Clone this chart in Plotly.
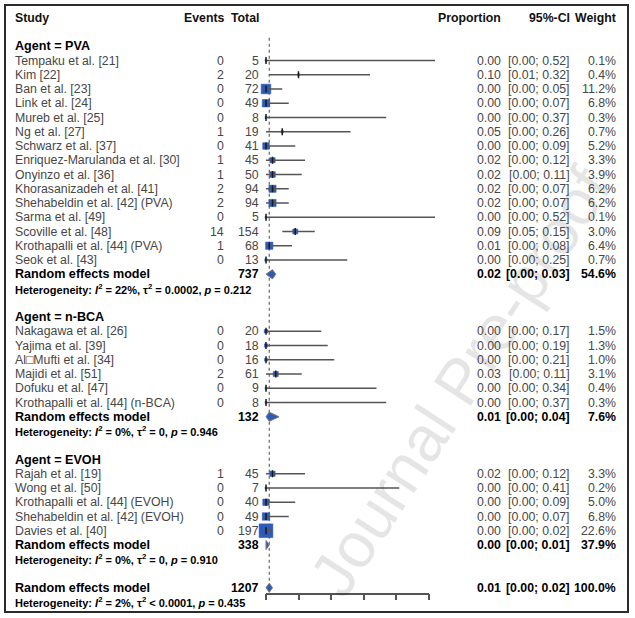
import math
import plotly.graph_objects as go

# ---------------- data ----------------
pva_studies = ["Tempaku et al. [21]", "Kim [22]", "Ban et al. [23]", "Link et al. [24]",
               "Mureb et al. [25]", "Ng et al. [27]", "Schwarz et al. [37]",
               "Enriquez-Marulanda et al. [30]", "Onyinzo et al. [36]",
               "Khorasanizadeh et al. [41]", "Shehabeldin et al. [42] (PVA)",
               "Sarma et al. [49]", "Scoville et al. [48]",
               "Krothapalli et al. [44] (PVA)", "Seok et al. [43]"]
pva_events = [0, 2, 0, 0, 0, 1, 0, 1, 1, 2, 2, 0, 14, 1, 0]
pva_totals = [5, 20, 72, 49, 8, 19, 41, 45, 50, 94, 94, 5, 154, 68, 13]
pva_prop = [0.00, 0.10, 0.00, 0.00, 0.00, 0.05, 0.00, 0.02, 0.02, 0.02, 0.02, 0.00, 0.09, 0.01, 0.00]
pva_lower = [0.00, 0.01, 0.00, 0.00, 0.00, 0.00, 0.00, 0.00, 0.00, 0.00, 0.00, 0.00, 0.05, 0.00, 0.00]
pva_upper = [0.52, 0.32, 0.05, 0.07, 0.37, 0.26, 0.09, 0.12, 0.11, 0.07, 0.07, 0.52, 0.15, 0.08, 0.25]
pva_weight = [0.1, 0.4, 11.2, 6.8, 0.3, 0.7, 5.2, 3.3, 3.9, 6.2, 6.2, 0.1, 3.0, 6.4, 0.7]

nbca_studies = ["Nakagawa et al. [26]", "Yajima et al. [39]", "Al\u25a1Mufti et al. [34]",
                "Majidi et al. [51]", "Dofuku et al. [47]", "Krothapalli et al. [44] (n-BCA)"]
nbca_events = [0, 0, 0, 2, 0, 0]
nbca_totals = [20, 18, 16, 61, 9, 8]
nbca_prop = [0.00, 0.00, 0.00, 0.03, 0.00, 0.00]
nbca_lower = [0.00, 0.00, 0.00, 0.00, 0.00, 0.00]
nbca_upper = [0.17, 0.19, 0.21, 0.11, 0.34, 0.37]
nbca_weight = [1.5, 1.3, 1.0, 3.1, 0.4, 0.3]

evoh_studies = ["Rajah et al. [19]", "Wong et al. [50]", "Krothapalli et al. [44] (EVOH)",
                "Shehabeldin et al. [42] (EVOH)", "Davies et al. [40]"]
evoh_events = [1, 0, 0, 0, 0]
evoh_totals = [45, 7, 40, 49, 197]
evoh_prop = [0.02, 0.00, 0.00, 0.00, 0.00]
evoh_lower = [0.00, 0.00, 0.00, 0.00, 0.00]
evoh_upper = [0.12, 0.41, 0.09, 0.07, 0.02]
evoh_weight = [3.3, 0.2, 5.0, 6.8, 22.6]

group_names = ["Agent = PVA", "Agent = n-BCA", "Agent = EVOH"]
group_totals = [737, 132, 338]
group_prop = [0.02, 0.01, 0.00]
group_lower = [0.00, 0.00, 0.00]
group_upper = [0.03, 0.04, 0.01]
group_weight = [54.6, 7.6, 37.9]
group_het = ["Heterogeneity: <i>I</i><sup>2</sup> = 22%, \u03c4<sup>2</sup> = 0.0002, <i>p</i> = 0.212",
             "Heterogeneity: <i>I</i><sup>2</sup> = 0%, \u03c4<sup>2</sup> = 0, <i>p</i> = 0.946",
             "Heterogeneity: <i>I</i><sup>2</sup> = 0%, \u03c4<sup>2</sup> = 0, <i>p</i> = 0.910"]

overall_total = 1207
overall_prop = 0.01
overall_lower = 0.00
overall_upper = 0.02
overall_weight = 100.0
overall_het = "Heterogeneity: <i>I</i><sup>2</sup> = 2%, \u03c4<sup>2</sup> &lt; 0.0001, <i>p</i> = 0.435"

axis_ticks = [0, 0.1, 0.2, 0.3, 0.4, 0.5]

groups = [
    (pva_studies, pva_events, pva_totals, pva_prop, pva_lower, pva_upper, pva_weight),
    (nbca_studies, nbca_events, nbca_totals, nbca_prop, nbca_lower, nbca_upper, nbca_weight),
    (evoh_studies, evoh_events, evoh_totals, evoh_prop, evoh_lower, evoh_upper, evoh_weight),
]

# ---------------- layout geometry ----------------
W, H = 635, 618
X0_PX, PX_PER_UNIT = 266.0, 325.0      # pixel of proportion 0, pixels per unit
ROW0_PX, ROW_PX = 60.5, 14.25          # pixel of first study row, row spacing
FONT = "Liberation Sans, Arial, sans-serif"
FS = 12.3
GRAY = "#474747"
BLUE = "#2f5bb7"

def px(xp):
    return xp / W

annotations = []

def text(xp, row, s, anchor="left", bold=False, size=FS, color=None):
    if color is None:
        color = "#000000" if bold else GRAY
    annotations.append(dict(
        x=px(xp), xref="paper", y=row, yref="y", text=(f"<b>{s}</b>" if bold else s),
        xanchor=anchor, yanchor="middle", showarrow=False,
        font=dict(family=FONT, size=size, color=color)))

COL_LABEL, COL_EVENTS, COL_TOTAL, COL_PROP, COL_CI, COL_W = 13, 226, 261, 503, 572, 618

# watermark (drawn first, under the other texts)
annotations.append(dict(
    x=px(460), xref="paper", y=1 - 382 / H, yref="paper", text="Journal Pre-proof",
    showarrow=False, textangle=-57, xanchor="center", yanchor="middle",
    font=dict(family=FONT, size=64, color="rgba(0,0,0,0.10)")))

# headers
text(COL_LABEL, -3, "Study", bold=True, color="#111")
text(COL_EVENTS, -3, "Events", "right", bold=True, color="#111")
text(COL_TOTAL, -3, "Total", "right", bold=True, color="#111")
text(COL_PROP, -3, "Proportion", "right", bold=True, color="#111")
text(COL_CI, -3, "95%-CI", "right", bold=True, color="#111")
text(COL_W, -3, "Weight", "right", bold=True, color="#111")

ci_x, ci_y = [], []
sq_x, sq_y, sq_s = [], [], []
diamonds = []

row = -1
for gi, (names, ev, tot, pr, lo, up, wt) in enumerate(groups):
    text(COL_LABEL, row, group_names[gi], bold=True, size=12.6)
    row += 1
    for i in range(len(names)):
        text(COL_LABEL, row, names[i])
        text(COL_EVENTS, row, str(ev[i]), "right")
        text(COL_TOTAL, row, str(tot[i]), "right")
        text(COL_PROP, row, f"{pr[i]:.2f}", "right")
        text(COL_CI, row, f"[{lo[i]:.2f}; {up[i]:.2f}]", "right")
        text(COL_W, row, f"{wt[i]:.1f}%", "right")
        ci_x += [lo[i], up[i], None]
        ci_y += [row, row, None]
        sq_x.append(pr[i]); sq_y.append(row)
        sq_s.append(max(2.9 * math.sqrt(wt[i]), 2.0))
        row += 1
    text(COL_LABEL, row, "Random effects model", bold=True, size=12.6)
    text(COL_TOTAL, row, str(group_totals[gi]), "right", bold=True)
    text(COL_PROP, row, f"{group_prop[gi]:.2f}", "right", bold=True)
    text(COL_CI, row, f"[{group_lower[gi]:.2f}; {group_upper[gi]:.2f}]", "right", bold=True)
    text(COL_W, row, f"{group_weight[gi]:.1f}%", "right", bold=True)
    diamonds.append((group_prop[gi], group_lower[gi], group_upper[gi], row))
    row += 1
    text(COL_LABEL, row, group_het[gi], bold=True, size=11)
    row += 2

# overall
text(COL_LABEL, row, "Random effects model", bold=True, size=12.6)
text(COL_TOTAL, row, str(overall_total), "right", bold=True)
text(COL_PROP, row, f"{overall_prop:.2f}", "right", bold=True)
text(COL_CI, row, f"[{overall_lower:.2f}; {overall_upper:.2f}]", "right", bold=True)
text(COL_W, row, f"{overall_weight:.1f}%", "right", bold=True)
diamonds.append((overall_prop, overall_lower, overall_upper, row))
overall_row = row
row += 1
text(COL_LABEL, row, overall_het, bold=True, size=11)

fig = go.Figure()

# reference (dotted) line at overall estimate
fig.add_trace(go.Scatter(x=[overall_prop, overall_prop], y=[-1.6, overall_row - 0.45],
                         mode="lines", line=dict(color="#666", width=1.2, dash="dot"),
                         hoverinfo="skip", showlegend=False))

# squares
fig.add_trace(go.Scatter(x=sq_x, y=sq_y, mode="markers",
                         marker=dict(symbol="square", size=sq_s, color=BLUE, opacity=1,
                                     line=dict(width=0.5, color=BLUE)),
                         hoverinfo="skip", showlegend=False))
# CI lines
fig.add_trace(go.Scatter(x=ci_x, y=ci_y, mode="lines", line=dict(color="#555", width=1.5),
                         hoverinfo="skip", showlegend=False))
# point ticks
fig.add_trace(go.Scatter(x=sq_x, y=sq_y, mode="markers",
                         marker=dict(symbol="line-ns-open", size=5, color="#1a1a1a",
                                     line=dict(color="#1a1a1a", width=1.5)),
                         hoverinfo="skip", showlegend=False))

# diamonds
DH = 0.32
for est, lo, up, r in diamonds:
    fig.add_trace(go.Scatter(x=[lo, est, up, est, lo], y=[r, r - DH, r, r + DH, r],
                             mode="lines", fill="toself", fillcolor=BLUE,
                             line=dict(color="#777", width=1), hoverinfo="skip", showlegend=False))

# dummy trace for the tick axis
fig.add_trace(go.Scatter(x=[0], y=[0], xaxis="x2", yaxis="y", mode="markers",
                         marker=dict(opacity=0), hoverinfo="skip", showlegend=False))

y_top = -ROW0_PX / ROW_PX
y_bot = (H - ROW0_PX) / ROW_PX

fig.update_layout(
    width=W, height=H, margin=dict(l=0, r=0, t=0, b=0),
    paper_bgcolor="white", plot_bgcolor="rgba(0,0,0,0)",
    xaxis=dict(domain=[0, 1], range=[-X0_PX / PX_PER_UNIT, (W - X0_PX) / PX_PER_UNIT],
               visible=False, fixedrange=True),
    xaxis2=dict(domain=[px(X0_PX), px(X0_PX + 0.5 * PX_PER_UNIT)], range=[0, 0.5],
                anchor="free", position=1 - 593.5 / H,
                showline=True, linecolor="#555", linewidth=1.5,
                ticks="outside", ticklen=6, tickwidth=1.5, tickcolor="#555",
                tickvals=axis_ticks, showticklabels=False, showgrid=False, zeroline=False),
    yaxis=dict(domain=[0, 1], range=[y_bot, y_top], visible=False, fixedrange=True),
    annotations=annotations,
    shapes=[dict(type="rect", xref="paper", yref="paper",
                 x0=px(5), x1=px(628), y0=1 - 612 / H, y1=1 - 5 / H,
                 line=dict(color="#2b2b2b", width=2))],
)

fig.write_html("out.html", config={"displayModeBar": False},
               post_script="document.body.style.margin='0px';document.body.style.overflow='hidden';")
